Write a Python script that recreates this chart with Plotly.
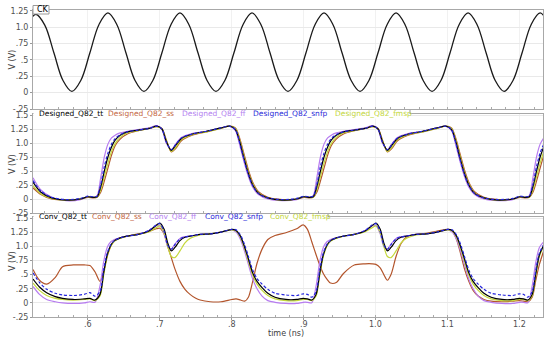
import plotly.graph_objects as go
from plotly.subplots import make_subplots

# ---------------- data ----------------
ck_t = [0.5155, 0.528, 0.5405, 0.553, 0.5655, 0.578, 0.5905, 0.603,
        0.6155, 0.628, 0.6405, 0.653, 0.6655, 0.678, 0.6905, 0.703,
        0.7155, 0.728, 0.7405, 0.753, 0.7655, 0.778, 0.7905, 0.803,
        0.8155, 0.828, 0.8405, 0.853, 0.8655, 0.878, 0.8905, 0.903,
        0.9155, 0.928, 0.9405, 0.953, 0.9655, 0.978, 0.9905, 1.003,
        1.0155, 1.028, 1.0405, 1.053, 1.0655, 1.078, 1.0905, 1.103,
        1.1155, 1.128, 1.1405, 1.153, 1.1655, 1.178, 1.1905, 1.203,
        1.2155, 1.228, 1.2405]
ck_v = [1.03, 1.20, 1.03, 0.61, 0.19, 0.02, 0.19, 0.61,
        1.04, 1.22, 1.04, 0.61, 0.19, 0.02, 0.19, 0.61,
        1.04, 1.22, 1.04, 0.61, 0.19, 0.02, 0.19, 0.61,
        1.04, 1.22, 1.04, 0.61, 0.19, 0.02, 0.19, 0.61,
        1.04, 1.22, 1.04, 0.61, 0.19, 0.02, 0.19, 0.61,
        1.04, 1.22, 1.04, 0.61, 0.19, 0.02, 0.19, 0.61,
        1.04, 1.22, 1.04, 0.61, 0.19, 0.02, 0.19, 0.61,
        1.04, 1.22, 1.04]

t_designed = [0.524, 0.535, 0.55, 0.57, 0.59, 0.60, 0.608,
              0.613, 0.618, 0.623, 0.628, 0.633, 0.638, 0.645, 0.655, 0.67, 0.685,
              0.696, 0.703, 0.709, 0.716, 0.722, 0.73, 0.745, 0.765, 0.785, 0.797,
              0.805, 0.811, 0.817, 0.823, 0.829, 0.837, 0.85, 0.87, 0.89, 0.90, 0.908,
              0.913, 0.918, 0.923, 0.928, 0.933, 0.938, 0.945, 0.955, 0.97, 0.985,
              0.996, 1.003, 1.009, 1.016, 1.022, 1.03, 1.045, 1.065, 1.085, 1.097,
              1.105, 1.111, 1.117, 1.123, 1.129, 1.137, 1.15, 1.17, 1.19, 1.20, 1.208,
              1.213, 1.218, 1.223, 1.228, 1.233]

designed_tt = [0.30, 0.12, 0.02, -0.02, 0.00, 0.04, 0.03,
               0.04, 0.22, 0.50, 0.75, 0.93, 1.05, 1.14, 1.20, 1.23, 1.26,
               1.30, 1.25, 1.03, 0.87, 0.96, 1.08, 1.16, 1.21, 1.27, 1.30,
               1.24, 1.02, 0.72, 0.45, 0.25, 0.10, 0.02, -0.02, 0.00, 0.04, 0.03,
               0.04, 0.22, 0.50, 0.75, 0.93, 1.05, 1.14, 1.20, 1.23, 1.26,
               1.30, 1.25, 1.03, 0.87, 0.96, 1.08, 1.16, 1.21, 1.27, 1.30,
               1.24, 1.02, 0.72, 0.45, 0.25, 0.10, 0.02, -0.02, 0.00, 0.04, 0.03,
               0.04, 0.22, 0.50, 0.75, 0.93]
designed_ss = [0.20, 0.08, 0.00, -0.02, 0.00, 0.03, 0.02,
               0.03, 0.12, 0.32, 0.55, 0.78, 0.95, 1.07, 1.16, 1.22, 1.26,
               1.29, 1.26, 1.06, 0.84, 0.90, 1.04, 1.14, 1.20, 1.26, 1.30,
               1.27, 1.08, 0.80, 0.52, 0.30, 0.13, 0.03, -0.01, 0.00, 0.03, 0.02,
               0.03, 0.12, 0.32, 0.55, 0.78, 0.95, 1.07, 1.16, 1.22, 1.26,
               1.29, 1.26, 1.06, 0.84, 0.90, 1.04, 1.14, 1.20, 1.26, 1.30,
               1.27, 1.08, 0.80, 0.52, 0.30, 0.13, 0.03, -0.01, 0.00, 0.03, 0.02,
               0.03, 0.12, 0.32, 0.55, 0.78]
designed_ff = [0.38, 0.16, 0.03, -0.03, -0.01, 0.04, 0.03,
               0.06, 0.38, 0.75, 0.98, 1.09, 1.14, 1.18, 1.21, 1.24, 1.27,
               1.31, 1.24, 1.00, 0.88, 0.98, 1.10, 1.17, 1.21, 1.27, 1.30,
               1.22, 0.96, 0.66, 0.40, 0.21, 0.08, 0.00, -0.03, -0.01, 0.04, 0.03,
               0.06, 0.38, 0.75, 0.98, 1.09, 1.14, 1.18, 1.21, 1.24, 1.27,
               1.31, 1.24, 1.00, 0.88, 0.98, 1.10, 1.17, 1.21, 1.27, 1.30,
               1.22, 0.96, 0.66, 0.40, 0.21, 0.08, 0.00, -0.03, -0.01, 0.04, 0.03,
               0.06, 0.38, 0.75, 0.98, 1.09]
designed_snfp = [0.33, 0.14, 0.03, -0.01, 0.01, 0.05, 0.04,
                 0.05, 0.26, 0.58, 0.82, 0.98, 1.08, 1.15, 1.20, 1.23, 1.26,
                 1.30, 1.25, 1.02, 0.88, 0.97, 1.09, 1.16, 1.21, 1.27, 1.30,
                 1.24, 1.00, 0.70, 0.44, 0.24, 0.10, 0.02, -0.01, 0.01, 0.05, 0.04,
                 0.05, 0.26, 0.58, 0.82, 0.98, 1.08, 1.15, 1.20, 1.23, 1.26,
                 1.30, 1.25, 1.02, 0.88, 0.97, 1.09, 1.16, 1.21, 1.27, 1.30,
                 1.24, 1.00, 0.70, 0.44, 0.24, 0.10, 0.02, -0.01, 0.01, 0.05, 0.04,
                 0.05, 0.26, 0.58, 0.82, 0.98]
designed_fmsp = [0.24, 0.09, 0.01, -0.02, 0.00, 0.04, 0.03,
                 0.03, 0.16, 0.40, 0.64, 0.85, 0.99, 1.10, 1.18, 1.22, 1.26,
                 1.29, 1.25, 1.05, 0.85, 0.92, 1.06, 1.15, 1.20, 1.26, 1.30,
                 1.26, 1.05, 0.76, 0.48, 0.27, 0.11, 0.02, -0.02, 0.00, 0.04, 0.03,
                 0.03, 0.16, 0.40, 0.64, 0.85, 0.99, 1.10, 1.18, 1.22, 1.26,
                 1.29, 1.25, 1.05, 0.85, 0.92, 1.06, 1.15, 1.20, 1.26, 1.30,
                 1.26, 1.05, 0.76, 0.48, 0.27, 0.11, 0.02, -0.02, 0.00, 0.04, 0.03,
                 0.03, 0.16, 0.40, 0.64, 0.85]

t_conv = [0.524, 0.533, 0.543, 0.555, 0.565, 0.58, 0.595, 0.603, 0.61,
          0.617, 0.622, 0.627, 0.632, 0.637, 0.645, 0.655, 0.67, 0.685, 0.695,
          0.70, 0.706, 0.711, 0.716, 0.721, 0.728, 0.735, 0.742, 0.75, 0.756,
          0.77, 0.785, 0.80, 0.806, 0.812, 0.818, 0.823, 0.829, 0.835, 0.842,
          0.85, 0.86, 0.875, 0.89, 0.899, 0.905, 0.911,
          0.917, 0.922, 0.927, 0.932, 0.937, 0.945, 0.955, 0.97, 0.985, 0.995,
          1.00, 1.006, 1.011, 1.016, 1.021, 1.028, 1.035, 1.042, 1.05, 1.056,
          1.07, 1.085, 1.10, 1.106, 1.112, 1.118, 1.123, 1.129, 1.135, 1.142,
          1.15, 1.16, 1.175, 1.19, 1.199, 1.205, 1.211,
          1.217, 1.222, 1.227, 1.233]

conv_tt = [0.42, 0.28, 0.18, 0.11, 0.08, 0.06, 0.07, 0.08, 0.05,
           0.15, 0.52, 0.85, 1.02, 1.10, 1.15, 1.18, 1.21, 1.27, 1.37,
           1.41, 1.30, 1.06, 0.92, 0.98, 1.10, 1.16, 1.18, 1.20, 1.21,
           1.22, 1.25, 1.30, 1.28, 1.18, 0.98, 0.78, 0.53, 0.38, 0.27,
           0.17, 0.10, 0.06, 0.06, 0.08, 0.07, 0.05,
           0.15, 0.52, 0.85, 1.02, 1.10, 1.15, 1.18, 1.21, 1.27, 1.37,
           1.41, 1.30, 1.06, 0.92, 0.98, 1.10, 1.16, 1.18, 1.20, 1.21,
           1.22, 1.25, 1.30, 1.28, 1.18, 0.98, 0.78, 0.53, 0.38, 0.27,
           0.17, 0.10, 0.06, 0.06, 0.08, 0.07, 0.05,
           0.15, 0.52, 0.85, 1.02]
conv_ss = [0.59, 0.40, 0.33, 0.45, 0.64, 0.67, 0.67, 0.66, 0.55,
           0.38, 0.55, 0.82, 1.00, 1.10, 1.15, 1.18, 1.22, 1.26, 1.31,
           1.32, 1.22, 1.00, 0.80, 0.60, 0.38, 0.24, 0.15, 0.08, 0.05,
           0.02, 0.02, 0.06, 0.07, 0.05, 0.03, 0.10, 0.38, 0.70, 0.95,
           1.12, 1.19, 1.24, 1.31, 1.38, 1.30, 1.08,
           0.85, 0.67, 0.52, 0.42, 0.35, 0.36, 0.52, 0.67, 0.69, 0.69,
           0.68, 0.62, 0.50, 0.40, 0.50, 0.82, 1.05, 1.16, 1.20, 1.21,
           1.23, 1.27, 1.30, 1.27, 1.12, 0.85, 0.60, 0.38, 0.22, 0.12,
           0.06, 0.03, 0.02, 0.03, 0.04, 0.03, 0.02,
           0.10, 0.40, 0.68, 0.92]
conv_ff = [0.29, 0.15, 0.06, 0.02, 0.00, -0.01, 0.00, 0.02, 0.01,
           0.30, 0.72, 0.98, 1.08, 1.12, 1.15, 1.18, 1.21, 1.28, 1.36,
           1.37, 1.22, 1.00, 0.95, 1.04, 1.14, 1.17, 1.18, 1.20, 1.21,
           1.22, 1.25, 1.29, 1.25, 1.12, 0.90, 0.68, 0.42, 0.25, 0.12,
           0.04, 0.01, -0.01, -0.01, 0.01, 0.01, 0.00,
           0.30, 0.72, 0.98, 1.08, 1.12, 1.15, 1.18, 1.21, 1.28, 1.36,
           1.37, 1.22, 1.00, 0.95, 1.04, 1.14, 1.17, 1.18, 1.20, 1.21,
           1.22, 1.25, 1.29, 1.25, 1.12, 0.90, 0.68, 0.42, 0.25, 0.12,
           0.04, 0.01, -0.01, -0.01, 0.01, 0.01, 0.00,
           0.30, 0.72, 0.98, 1.08]
conv_snfp = [0.53, 0.36, 0.24, 0.17, 0.14, 0.13, 0.15, 0.18, 0.12,
             0.20, 0.58, 0.88, 1.03, 1.10, 1.15, 1.18, 1.21, 1.28, 1.38,
             1.40, 1.26, 1.02, 0.95, 1.03, 1.13, 1.17, 1.18, 1.20, 1.21,
             1.22, 1.25, 1.30, 1.29, 1.20, 1.02, 0.82, 0.58, 0.43, 0.33,
             0.24, 0.17, 0.14, 0.13, 0.16, 0.15, 0.10,
             0.20, 0.58, 0.88, 1.03, 1.10, 1.15, 1.18, 1.21, 1.28, 1.38,
             1.40, 1.26, 1.02, 0.95, 1.03, 1.13, 1.17, 1.18, 1.20, 1.21,
             1.22, 1.25, 1.30, 1.29, 1.20, 1.02, 0.82, 0.58, 0.43, 0.33,
             0.24, 0.17, 0.14, 0.13, 0.16, 0.15, 0.10,
             0.20, 0.58, 0.88, 1.03]
conv_fmsp = [0.35, 0.22, 0.13, 0.08, 0.06, 0.05, 0.06, 0.07, 0.04,
             0.12, 0.48, 0.82, 1.00, 1.09, 1.14, 1.18, 1.21, 1.26, 1.33,
             1.36, 1.24, 1.00, 0.82, 0.80, 0.92, 1.06, 1.14, 1.18, 1.20,
             1.22, 1.25, 1.29, 1.27, 1.16, 0.95, 0.74, 0.49, 0.33, 0.22,
             0.13, 0.07, 0.04, 0.04, 0.06, 0.06, 0.04,
             0.12, 0.48, 0.82, 1.00, 1.09, 1.14, 1.18, 1.21, 1.26, 1.33,
             1.36, 1.24, 1.00, 0.82, 0.80, 0.92, 1.06, 1.14, 1.18, 1.20,
             1.22, 1.25, 1.29, 1.27, 1.16, 0.95, 0.74, 0.49, 0.33, 0.22,
             0.13, 0.07, 0.04, 0.04, 0.06, 0.06, 0.04,
             0.12, 0.48, 0.82, 1.00]

x_ticks = [0.6, 0.7, 0.8, 0.9, 1.0, 1.1, 1.2]
x_labels = [".6", ".7", ".8", ".9", "1.0", "1.1", "1.2"]
y_ticks = [-0.25, 0, 0.25, 0.5, 0.75, 1.0, 1.25, 1.5]
y_labels = ["-.25", "0", ".25", ".5", ".75", "1.0", "1.25", "1.5"]

designed_names = ["Designed_Q82_tt", "Designed_Q82_ss", "Designed_Q82_ff",
                  "Designed_Q82_snfp", "Designed_Q82_fmsp"]
conv_names = ["Conv_Q82_tt", "Conv_Q82_ss", "Conv_Q82_ff",
              "Conv_Q82_snfp", "Conv_Q82_fmsp"]

for s in [designed_tt, designed_ss, designed_ff, designed_snfp, designed_fmsp]:
    assert len(s) == len(t_designed), (len(s), len(t_designed))
for s in [conv_tt, conv_ss, conv_ff, conv_snfp, conv_fmsp]:
    assert len(s) == len(t_conv), (len(s), len(t_conv))
assert len(ck_t) == len(ck_v)

# ---------------- style ----------------
W, H = 550, 340
ML, MR, MT, MB = 33, 7, 10, 23
PW, PH = W - ML - MR, H - MT - MB
FONT = "DejaVu Sans"

def px_x(px):
    return (px - ML) / PW

def px_y(py):
    return (H - MB - py) / PH

col = {"tt": "#000000", "ss": "#b3552c", "ff": "#b77cf0",
       "snfp": "#2626dc", "fmsp": "#c5d83a"}
txtcol = {"tt": "#000000", "ss": "#c4673f", "ff": "#b47ff0",
          "snfp": "#2a2ad8", "fmsp": "#c2d63c"}
keys = ["tt", "ss", "ff", "snfp", "fmsp"]

fig = make_subplots(rows=3, cols=1, shared_xaxes=True)

fig.add_trace(go.Scatter(x=ck_t, y=ck_v, mode="lines",
                         line=dict(color="#1a1a1a", width=1.3, shape="spline", smoothing=1.0),
                         showlegend=False, name="CK"), row=1, col=1)

dser = {"tt": designed_tt, "ss": designed_ss, "ff": designed_ff, "snfp": designed_snfp, "fmsp": designed_fmsp}
cser = {"tt": conv_tt, "ss": conv_ss, "ff": conv_ff, "snfp": conv_snfp, "fmsp": conv_fmsp}
draw_order = ["ss", "ff", "fmsp", "tt", "snfp"]
for k in draw_order:
    dash = "3px,2px" if k == "snfp" else "solid"
    fig.add_trace(go.Scatter(x=t_designed, y=dser[k], mode="lines",
                             line=dict(color=col[k], width=1.2, dash=dash, shape="spline", smoothing=0.8),
                             showlegend=False), row=2, col=1)
for k in draw_order:
    dash = "3px,2px" if k == "snfp" else "solid"
    fig.add_trace(go.Scatter(x=t_conv, y=cser[k], mode="lines",
                             line=dict(color=col[k], width=1.2, dash=dash, shape="spline", smoothing=0.8),
                             showlegend=False), row=3, col=1)

domains = [[px_y(109), 1.0], [px_y(213), px_y(114)], [0.0, px_y(217)]]
yranges = [[-0.25, 1.265], [-0.25, 1.518], [-0.25, 1.518]]
for i in range(3):
    yname = "yaxis" if i == 0 else f"yaxis{i+1}"
    fig.layout[yname].update(
        domain=domains[i], range=yranges[i], tickvals=y_ticks, ticktext=y_labels,
        showgrid=True, gridcolor="#e9e9e9", gridwidth=1, zeroline=False,
        showline=True, linecolor="#a8a8a8", linewidth=1, mirror=True,
        ticks="outside", ticklen=2, tickcolor="#999999", automargin=False,
        tickfont=dict(family=FONT, size=8, color="#505050"), fixedrange=True)
    xname = "xaxis" if i == 0 else f"xaxis{i+1}"
    fig.layout[xname].update(
        range=[0.524, 1.232], tickvals=x_ticks, ticktext=x_labels,
        showgrid=True, gridcolor="#f1f1f1", gridwidth=1, zeroline=False,
        showline=True, linecolor="#a8a8a8", linewidth=1, mirror=True,
        ticks="outside" if i == 2 else "", ticklen=2, tickcolor="#999999",
        showticklabels=False, automargin=False,
        minor=dict(dtick=0.02, ticks="inside", ticklen=2, tickcolor="#aaaaaa", showgrid=False))

annotations = []
shapes = []
# x tick labels and x title (placed with the x axis scale)
for tv, tl in zip(x_ticks, x_labels):
    annotations.append(dict(x=tv, y=px_y(324), xref="x3", yref="paper", text=tl, showarrow=False,
                            xanchor="center", yanchor="middle",
                            font=dict(family=FONT, size=8, color="#505050")))
annotations.append(dict(x=px_x(286), y=px_y(333), xref="paper", yref="paper", text="time (ns)",
                        showarrow=False, xanchor="center", yanchor="middle",
                        font=dict(family=FONT, size=8, color="#404040")))
# y titles
for yc in [59.5, 164, 261]:
    annotations.append(dict(x=px_x(12), y=px_y(yc), xref="paper", yref="paper", text="V (V)",
                            textangle=-90, showarrow=False, xanchor="center", yanchor="middle",
                            font=dict(family=FONT, size=8, color="#404040")))

# CK legend box
shapes.append(dict(type="rect", xref="paper", yref="paper", x0=px_x(33), x1=px_x(49), y0=px_y(14), y1=px_y(5.5),
                   fillcolor="white", line=dict(color="#999999", width=1), layer="above"))
annotations.append(dict(x=px_x(35), y=px_y(9.8), xref="paper", yref="paper", text="CK", xanchor="left",
                        yanchor="middle", showarrow=False, font=dict(family=FONT, size=8, color="#000000")))

# Designed legend
shapes.append(dict(type="rect", xref="paper", yref="paper", x0=px_x(33.5), x1=px_x(410), y0=px_y(118.5), y1=px_y(110),
                   fillcolor="white", line=dict(width=0), layer="above"))
shapes.append(dict(type="line", xref="paper", yref="paper", x0=px_x(410), x1=px_x(410), y0=px_y(114), y1=px_y(110),
                   line=dict(color="#999999", width=1), layer="above"))
for name, k, xl in zip(designed_names, keys, [37, 106, 180, 251, 333]):
    annotations.append(dict(x=px_x(xl), y=px_y(113.5), xref="paper", yref="paper", text=name, xanchor="left",
                            yanchor="middle", showarrow=False, font=dict(family=FONT, size=7.5, color=txtcol[k])))

# Conv legend
shapes.append(dict(type="rect", xref="paper", yref="paper", x0=px_x(33.5), x1=px_x(328), y0=px_y(221), y1=px_y(214),
                   fillcolor="white", line=dict(width=0), layer="above"))
shapes.append(dict(type="line", xref="paper", yref="paper", x0=px_x(328), x1=px_x(328), y0=px_y(217.5), y1=px_y(214),
                   line=dict(color="#999999", width=1), layer="above"))
for name, k, xl in zip(conv_names, keys, [37, 90, 147, 203, 268]):
    annotations.append(dict(x=px_x(xl), y=px_y(216.5), xref="paper", yref="paper", text=name, xanchor="left",
                            yanchor="middle", showarrow=False, font=dict(family=FONT, size=7.5, color=txtcol[k])))

fig.update_layout(width=W, height=H, margin=dict(l=ML, r=MR, t=MT, b=MB, autoexpand=False),
                  paper_bgcolor="white", plot_bgcolor="white", showlegend=False,
                  annotations=annotations, shapes=shapes,
                  font=dict(family=FONT, size=8))

fig.write_html("out.html", config={"displayModeBar": False},
               post_script="document.body.style.margin='0';document.body.style.overflow='hidden';")
